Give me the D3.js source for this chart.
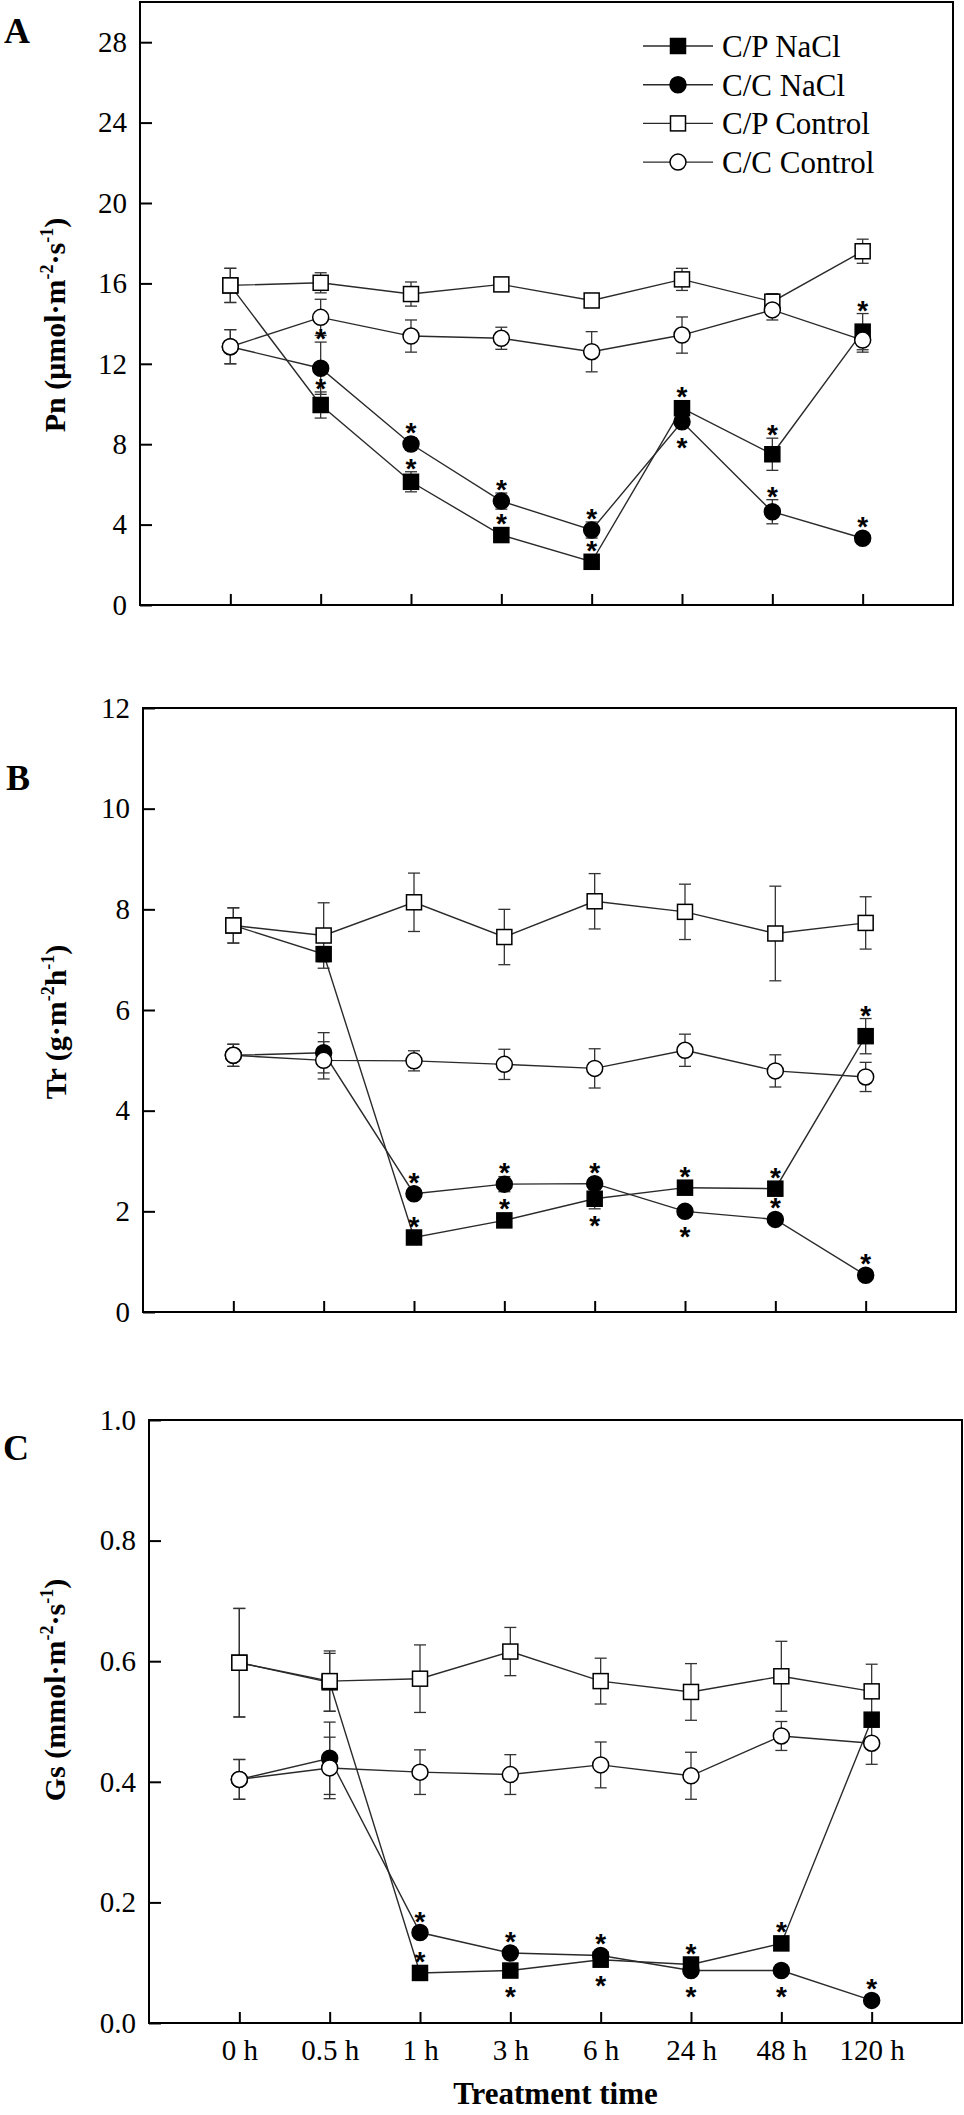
<!DOCTYPE html>
<html>
<head>
<meta charset="utf-8">
<script src="https://cdn.jsdelivr.net/npm/d3@7"></script>
<style>
body { margin: 0; background: #fff; }
text { font-family: "Liberation Serif", "Times New Roman", serif; fill: #000; }
</style>
</head>
<body>
<script>
// categories and series names
var times = ["0 h", "0.5 h", "1 h", "3 h", "6 h", "24 h", "48 h", "120 h"];
var seriesNames = ["C/P NaCl", "C/C NaCl", "C/P Control", "C/C Control"];

// tick labels
var pnTicks = [0, 4, 8, 12, 16, 20, 24, 28];
var trTicks = [0, 2, 4, 6, 8, 10, 12];
var gsTicks = [0, 0.2, 0.4, 0.6, 0.8, 1.0];

// A - Pn, means and error bars
var pnCPNaCl = [15.9, 9.95, 6.13, 3.48, 2.15, 9.79, 7.5, 13.6];
var pnCPNaClErr = [0.85, 0.65, 0.5, 0.2, 0.2, 0.3, 0.8, 0.9];
var pnCCNaCl = [12.85, 11.78, 8.01, 5.17, 3.73, 9.12, 4.64, 3.32];
var pnCCNaClErr = [0.85, 1.3, 0.3, 0.4, 0.4, 0.3, 0.6, 0.2];
var pnCPCtrl = [15.9, 16.03, 15.47, 15.95, 15.15, 16.2, 15.09, 17.6];
var pnCPCtrlErr = [0.85, 0.5, 0.6, 0.3, 0.3, 0.55, 0.4, 0.6];
var pnCCCtrl = [12.85, 14.31, 13.38, 13.27, 12.6, 13.43, 14.68, 13.18];
var pnCCCtrlErr = [0.85, 0.9, 0.8, 0.55, 1.0, 0.9, 0.5, 0.6];
// significance stars: "a" above, "b" below
var pnCPNaClSig = [null, "a", "a", "a", "a", "a", "a", "a"];
var pnCCNaClSig = [null, "a", "a", "a", "a", "b", "a", "a"];

// B - Tr
var trCPNaCl = [7.68, 7.11, 1.48, 1.82, 2.25, 2.47, 2.45, 5.48];
var trCPNaClErr = [0.35, 0.15, 0.1, 0.1, 0.2, 0.1, 0.1, 0.35];
var trCCNaCl = [5.1, 5.15, 2.35, 2.54, 2.55, 2.0, 1.84, 0.73];
var trCCNaClErr = [0.22, 0.4, 0.1, 0.15, 0.1, 0.1, 0.1, 0.05];
var trCPCtrl = [7.68, 7.48, 8.14, 7.45, 8.16, 7.95, 7.52, 7.73];
var trCPCtrlErr = [0.35, 0.65, 0.58, 0.55, 0.55, 0.55, 0.94, 0.52];
var trCCCtrl = [5.1, 5.0, 4.99, 4.92, 4.84, 5.2, 4.79, 4.67];
var trCCCtrlErr = [0.22, 0.37, 0.2, 0.3, 0.39, 0.32, 0.32, 0.29];
var trCPNaClSig = [null, null, "a", "a", "b", "a", "a", "a"];
var trCCNaClSig = [null, null, "a", "a", "a", "b", "a", "a"];

// C - Gs
var gsCPNaCl = [0.5975, 0.565, 0.083, 0.087, 0.105, 0.097, 0.132, 0.503];
var gsCPNaClErr = [0.09, 0.048, 0.005, 0.005, 0.005, 0.005, 0.005, 0.01];
var gsCCNaCl = [0.404, 0.439, 0.15, 0.116, 0.112, 0.087, 0.087, 0.0375];
var gsCCNaClErr = [0.033, 0.06, 0.005, 0.005, 0.005, 0.005, 0.005, 0.005];
var gsCPCtrl = [0.5975, 0.567, 0.571, 0.616, 0.567, 0.549, 0.575, 0.55];
var gsCPCtrlErr = [0.09, 0.05, 0.056, 0.04, 0.038, 0.047, 0.058, 0.045];
var gsCCCtrl = [0.404, 0.423, 0.416, 0.412, 0.428, 0.41, 0.476, 0.464];
var gsCCCtrlErr = [0.033, 0.051, 0.037, 0.033, 0.038, 0.039, 0.024, 0.035];
var gsCPNaClSig = [null, null, "a", "b", "b", "a", "a", null];
var gsCCNaClSig = [null, null, "a", "a", "a", "b", "b", "a"];

var noSig = [null, null, null, null, null, null, null, null];

// marker look per series
var styles = [
    {shape: "square", fill: "#000"},
    {shape: "circle", fill: "#000"},
    {shape: "square", fill: "#fff"},
    {shape: "circle", fill: "#fff"}
];

var svg = d3.select("body").append("svg")
    .attr("width", 964)
    .attr("height", 2115);

var panels = [
    {
        letter: "A", letterX: 4, letterY: 43,
        left: 140, right: 953, top: 2, bottom: 605, max: 30,
        ticks: pnTicks, fmt: d3.format("d"), xLabels: false,
        label: [["Pn (μmol·m", 0], ["-2", 1], ["·s", 0], ["-1", 1], [")", 0]],
        labelX: 65, labelY: 325,
        vals: [pnCPNaCl, pnCCNaCl, pnCPCtrl, pnCCCtrl],
        errs: [pnCPNaClErr, pnCCNaClErr, pnCPCtrlErr, pnCCCtrlErr],
        sigs: [pnCPNaClSig, pnCCNaClSig, noSig, noSig],
        legend: true
    },
    {
        letter: "B", letterX: 6, letterY: 790,
        left: 143, right: 956, top: 708, bottom: 1312, max: 12,
        ticks: trTicks, fmt: d3.format("d"), xLabels: false,
        label: [["Tr (g·m", 0], ["-2", 1], ["h", 0], ["-1", 1], [")", 0]],
        labelX: 66, labelY: 1022,
        vals: [trCPNaCl, trCCNaCl, trCPCtrl, trCCCtrl],
        errs: [trCPNaClErr, trCCNaClErr, trCPCtrlErr, trCCCtrlErr],
        sigs: [trCPNaClSig, trCCNaClSig, noSig, noSig],
        legend: false
    },
    {
        letter: "C", letterX: 3, letterY: 1460,
        left: 149, right: 962, top: 1420, bottom: 2023, max: 1,
        ticks: gsTicks, fmt: d3.format(".1f"), xLabels: true,
        label: [["Gs (mmol·m", 0], ["-2", 1], ["·s", 0], ["-1", 1], [")", 0]],
        labelX: 65, labelY: 1690,
        vals: [gsCPNaCl, gsCCNaCl, gsCPCtrl, gsCCCtrl],
        errs: [gsCPNaClErr, gsCCNaClErr, gsCPCtrlErr, gsCCCtrlErr],
        sigs: [gsCPNaClSig, gsCCNaClSig, noSig, noSig],
        legend: false
    }
];

function drawMarker(sel, st, cx, cy) {
    if (st.shape === "square") {
        sel.append("rect")
            .attr("x", cx - 7.5).attr("y", cy - 7.5)
            .attr("width", 15).attr("height", 15)
            .attr("fill", st.fill).attr("stroke", "#000").attr("stroke-width", 1.5);
    } else {
        sel.append("circle")
            .attr("cx", cx).attr("cy", cy).attr("r", 8)
            .attr("fill", st.fill).attr("stroke", "#000").attr("stroke-width", 1.5);
    }
}

panels.forEach(function (p) {
    var x = d3.scalePoint().domain(times).range([p.left, p.right]).padding(1);
    var y = d3.scaleLinear().domain([0, p.max]).range([p.bottom, p.top]);
    var g = svg.append("g");

    // y axis, ticks pointing inward
    var ya = g.append("g")
        .attr("transform", "translate(" + p.left + ",0)")
        .call(d3.axisLeft(y).tickValues(p.ticks).tickFormat(p.fmt)
            .tickSizeInner(-12).tickSizeOuter(0).tickPadding(13));
    ya.select(".domain").remove();
    ya.selectAll("line").attr("stroke", "#000").attr("stroke-width", 2);
    ya.selectAll("text").style("font-size", "29px")
        .style("font-family", "'Liberation Serif', 'Times New Roman', serif");

    // x axis
    var xa = g.append("g")
        .attr("transform", "translate(0," + p.bottom + ")")
        .call(d3.axisBottom(x).tickSizeInner(-11).tickSizeOuter(0).tickPadding(16)
            .tickFormat(p.xLabels ? null : ""));
    xa.select(".domain").remove();
    xa.selectAll("line").attr("stroke", "#000").attr("stroke-width", 2);
    xa.selectAll("text").style("font-size", "29px")
        .style("font-family", "'Liberation Serif', 'Times New Roman', serif");

    // frame
    g.append("rect")
        .attr("x", p.left).attr("y", p.top)
        .attr("width", p.right - p.left).attr("height", p.bottom - p.top)
        .attr("fill", "none").attr("stroke", "#000").attr("stroke-width", 2);

    // panel letter
    g.append("text")
        .attr("x", p.letterX).attr("y", p.letterY)
        .attr("font-size", 36).attr("font-weight", "bold")
        .text(p.letter);

    // y label with superscripts
    var lab = g.append("text")
        .attr("transform", "translate(" + p.labelX + "," + p.labelY + ") rotate(-90)")
        .attr("text-anchor", "middle")
        .attr("font-size", 30).attr("font-weight", "bold");
    var shift = 0;
    p.label.forEach(function (part) {
        var t = lab.append("tspan").text(part[0]);
        if (part[1]) {
            t.attr("font-size", 18).attr("dy", -12 - shift);
            shift = -12;
        } else {
            t.attr("dy", -shift);
            shift = 0;
        }
    });

    var line = d3.line()
        .x(function (d, i) { return x(times[i]); })
        .y(function (d) { return y(d); });

    // connecting lines
    p.vals.forEach(function (v) {
        g.append("path")
            .attr("d", line(v))
            .attr("fill", "none").attr("stroke", "#2a2a2a").attr("stroke-width", 1.4);
    });

    // error bars
    p.vals.forEach(function (v, s) {
        var e = p.errs[s];
        v.forEach(function (d, i) {
            var cx = x(times[i]);
            var y1 = y(d + e[i]), y0 = y(d - e[i]);
            var eb = g.append("g").attr("stroke", "#333").attr("stroke-width", 1.3);
            eb.append("line").attr("x1", cx).attr("x2", cx).attr("y1", y1).attr("y2", y0);
            eb.append("line").attr("x1", cx - 6).attr("x2", cx + 6).attr("y1", y1).attr("y2", y1);
            eb.append("line").attr("x1", cx - 6).attr("x2", cx + 6).attr("y1", y0).attr("y2", y0);
        });
    });

    // markers, control series last so they sit on top
    p.vals.forEach(function (v, s) {
        v.forEach(function (d, i) {
            drawMarker(g, styles[s], x(times[i]), y(d));
        });
    });

    // significance stars
    p.vals.forEach(function (v, s) {
        var e = p.errs[s];
        p.sigs[s].forEach(function (m, i) {
            if (!m) return;
            var cy;
            if (m === "a") cy = Math.min(y(v[i]) - 18, y(v[i] + e[i]) - 10);
            else cy = Math.max(y(v[i]) + 19, y(v[i] - e[i]) + 10);
            g.append("text")
                .attr("x", x(times[i])).attr("y", cy + 16)
                .attr("text-anchor", "middle")
                .style("font-family", "'Liberation Sans', Arial, sans-serif")
                .style("font-size", "28px").style("font-weight", "bold")
                .text("*");
        });
    });

    // legend
    if (p.legend) {
        seriesNames.forEach(function (n, i) {
            var ly = 46 + i * 38.7;
            g.append("line")
                .attr("x1", 643).attr("x2", 713).attr("y1", ly).attr("y2", ly)
                .attr("stroke", "#2a2a2a").attr("stroke-width", 1.4);
            drawMarker(g, styles[i], 678, ly);
            g.append("text")
                .attr("x", 722).attr("y", ly + 11)
                .attr("font-size", 31)
                .text(n);
        });
    }
});

// shared x axis title
svg.append("text")
    .attr("x", 555.5).attr("y", 2104)
    .attr("text-anchor", "middle")
    .attr("font-size", 31).attr("font-weight", "bold")
    .text("Treatment time");
</script>
</body>
</html>
